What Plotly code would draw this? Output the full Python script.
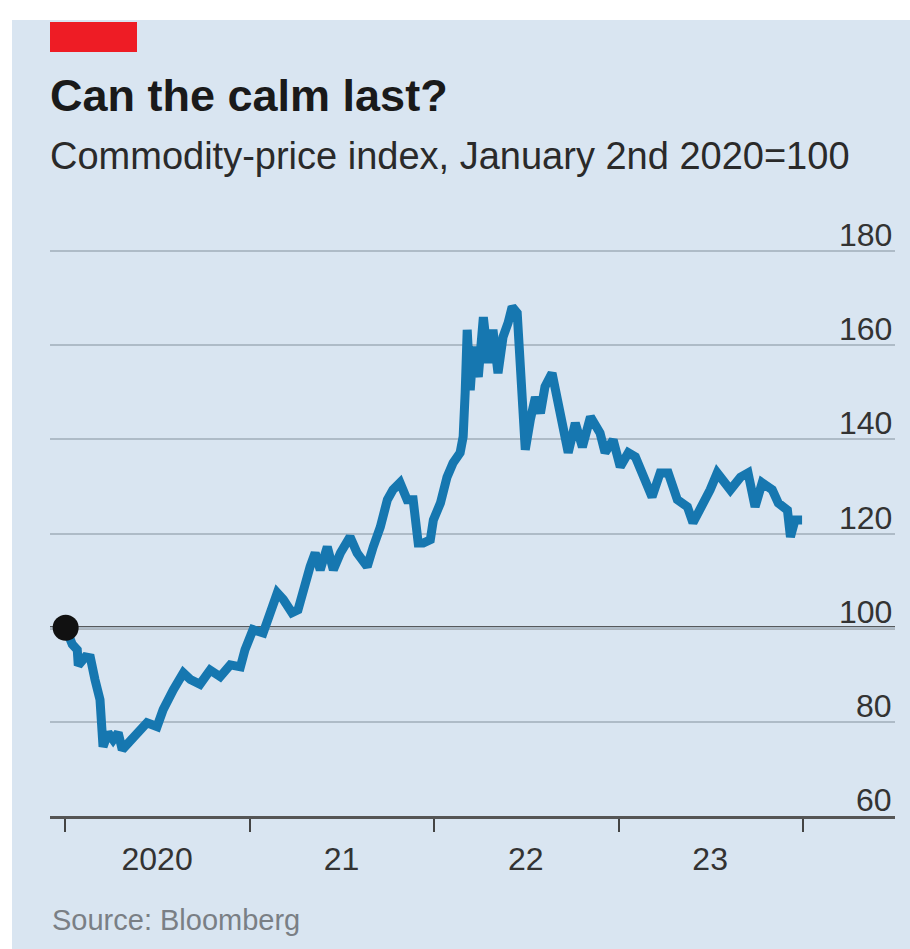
import plotly.graph_objects as go

# ---- data ----
dates = [
    "2020-01-02", "2020-01-15", "2020-01-25", "2020-01-27", "2020-02-10", "2020-02-20",
    "2020-02-29", "2020-03-10", "2020-03-16", "2020-03-26", "2020-04-05", "2020-04-15",
    "2020-04-23", "2020-05-05", "2020-05-23", "2020-06-11", "2020-07-01", "2020-07-13",
    "2020-08-02", "2020-08-22", "2020-09-05", "2020-09-24", "2020-10-14", "2020-11-03",
    "2020-11-23", "2020-12-13", "2020-12-22", "2021-01-07", "2021-01-27", "2021-02-10",
    "2021-02-24", "2021-03-08", "2021-03-25", "2021-04-06", "2021-04-16", "2021-04-30",
    "2021-05-10", "2021-05-20", "2021-06-03", "2021-06-15", "2021-06-29", "2021-07-18",
    "2021-08-01", "2021-08-21", "2021-09-02", "2021-09-16", "2021-09-30", "2021-10-11",
    "2021-10-25", "2021-11-08", "2021-11-20", "2021-11-30", "2021-12-10", "2021-12-24",
    "2021-12-30", "2022-01-13", "2022-01-26", "2022-02-07", "2022-02-21", "2022-02-27",
    "2022-03-03", "2022-03-07", "2022-03-13", "2022-03-19", "2022-03-29", "2022-04-08",
    "2022-04-18", "2022-04-27", "2022-05-07", "2022-05-17", "2022-05-27", "2022-06-04",
    "2022-06-14", "2022-06-20", "2022-06-24", "2022-06-30", "2022-07-10", "2022-07-20",
    "2022-07-30", "2022-08-08", "2022-08-22", "2022-09-01", "2022-09-11", "2022-09-23",
    "2022-10-07", "2022-10-21", "2022-11-06", "2022-11-25", "2022-12-05", "2022-12-21",
    "2023-01-04", "2023-01-20", "2023-02-03", "2023-02-18", "2023-03-08", "2023-03-24",
    "2023-04-09", "2023-04-27", "2023-05-17", "2023-05-28", "2023-06-15", "2023-07-01",
    "2023-07-15", "2023-08-10", "2023-08-30", "2023-09-14", "2023-09-28", "2023-10-12",
    "2023-11-01", "2023-11-13", "2023-12-01", "2023-12-07", "2023-12-16", "2023-12-30",
]
index_values = [
    100.0, 96.5, 95.3, 92.0, 93.8, 93.6,
    89.0, 84.7, 74.7, 77.7, 76.2, 77.7,
    74.1, 75.6, 77.7, 79.8, 79.0, 82.6,
    86.8, 90.4, 89.0, 88.0, 91.0, 89.6,
    92.1, 91.7, 95.3, 99.6, 98.9, 103.2,
    107.4, 106.0, 103.2, 103.8, 108.0, 113.0,
    115.9, 112.3, 117.2, 112.3, 115.9, 119.3,
    115.9, 113.0, 117.2, 121.4, 127.2, 129.3,
    130.8, 127.2, 127.2, 118.0, 118.0, 118.7,
    122.9, 126.5, 132.0, 135.0, 137.2, 140.6,
    150.0, 163.3, 150.5, 159.7, 153.3, 166.0,
    156.3, 163.3, 154.1, 161.8, 164.8, 168.2,
    166.9, 156.3, 150.5, 137.8, 144.2, 149.0,
    145.6, 151.2, 154.1, 149.0, 142.7, 137.2,
    143.5, 138.4, 144.8, 141.4, 137.2, 139.9,
    134.2, 137.2, 136.3, 132.0, 127.8, 132.9,
    132.9, 127.2, 125.7, 122.3, 125.7, 129.3,
    132.9, 129.3, 132.0, 132.9, 125.7, 130.8,
    129.3, 126.5, 125.0, 119.3, 122.9, 122.9,
]

year_starts = ["2020-01-01", "2021-01-01", "2022-01-01", "2023-01-01", "2024-01-01"]
year_mids = ["2020-07-01", "2021-07-01", "2022-07-01", "2023-07-01"]
year_labels = ["2020", "21", "22", "23"]
y_ticks = [60, 80, 100, 120, 140, 160, 180]

title = "<b>Can the calm last?</b>"
subtitle = "Commodity-price index, January 2nd 2020=100"
source = "Source: Bloomberg"

# ---- layout geometry (pixels) ----
W, H = 910, 949
L, R, T, B = 50, 15, 223, 133
PW, PH = W - L - R, H - T - B


def px_x(p):
    return (p - L) / PW


def px_y(p):
    return (H - B - p) / PH


BG = "#d9e5f1"
BLUE = "#1677b0"
FONT = "Liberation Sans, Arial, sans-serif"

fig = go.Figure()

fig.add_trace(go.Scatter(
    x=dates, y=index_values, mode="lines",
    line=dict(color=BLUE, width=9), hoverinfo="skip", showlegend=False,
))
fig.add_trace(go.Scatter(
    x=[dates[0]], y=[index_values[0]], mode="markers",
    marker=dict(color="#111111", size=26), hoverinfo="skip", showlegend=False,
))

y_label_annotations = [
    dict(text=str(v), xref="paper", yref="y", x=px_x(894), y=v,
         xanchor="right", yanchor="bottom", yshift=-4, showarrow=False,
         font=dict(size=32, color="#333333", family=FONT))
    for v in y_ticks
]

fig.update_layout(
    width=W, height=H,
    margin=dict(l=L, r=R, t=T, b=B),
    paper_bgcolor=BG, plot_bgcolor="rgba(0,0,0,0)",
    font=dict(family=FONT, color="#333333"),
    xaxis=dict(
        type="date", range=["2019-12-02", "2024-07-01"],
        tickvals=year_mids, ticktext=year_labels, ticks="",
        tickfont=dict(size=32, color="#333333"), ticklabelstandoff=13,
        showgrid=False, zeroline=False,
        showline=True, linecolor="#555555", linewidth=3,
        minor=dict(tickvals=year_starts, ticks="outside", ticklen=13,
                   tickwidth=2, tickcolor="#444444", showgrid=False),
    ),
    yaxis=dict(
        range=[60, 186], side="right", tickvals=y_ticks,
        showticklabels=False, ticks="",
        showgrid=True, gridcolor="#aebbc7", gridwidth=2,
        zeroline=False, showline=False,
    ),
    shapes=[
        dict(type="line", xref="paper", yref="y", x0=0, x1=1, y0=100, y1=100,
             line=dict(color="#2a2a2a", width=3), layer="between"),
        dict(type="rect", xref="paper", yref="paper",
             x0=px_x(50), x1=px_x(137), y0=px_y(52), y1=px_y(22),
             fillcolor="#ee1c25", line=dict(width=0), layer="above"),
        dict(type="rect", xref="paper", yref="paper",
             x0=px_x(0), x1=px_x(W), y0=px_y(20), y1=px_y(0),
             fillcolor="white", line=dict(width=0), layer="above"),
        dict(type="rect", xref="paper", yref="paper",
             x0=px_x(0), x1=px_x(12), y0=px_y(H), y1=px_y(0),
             fillcolor="white", line=dict(width=0), layer="above"),
    ],
    annotations=[
        dict(text=title, xref="paper", yref="paper", x=px_x(48), y=px_y(95),
             xanchor="left", yanchor="middle", showarrow=False,
             font=dict(size=45, color="#1a1a1a", family=FONT)),
        dict(text=subtitle, xref="paper", yref="paper", x=px_x(48), y=px_y(156),
             xanchor="left", yanchor="middle", showarrow=False,
             font=dict(size=38, color="#2a2a2a", family=FONT)),
        dict(text=source, xref="paper", yref="paper", x=px_x(50), y=px_y(920),
             xanchor="left", yanchor="middle", showarrow=False,
             font=dict(size=29, color="#7a7f85", family=FONT)),
    ] + y_label_annotations,
)

fig.write_html(
    "out.html",
    config={"displayModeBar": False},
    post_script="document.body.style.margin='0';document.body.style.overflow='hidden';",
)
